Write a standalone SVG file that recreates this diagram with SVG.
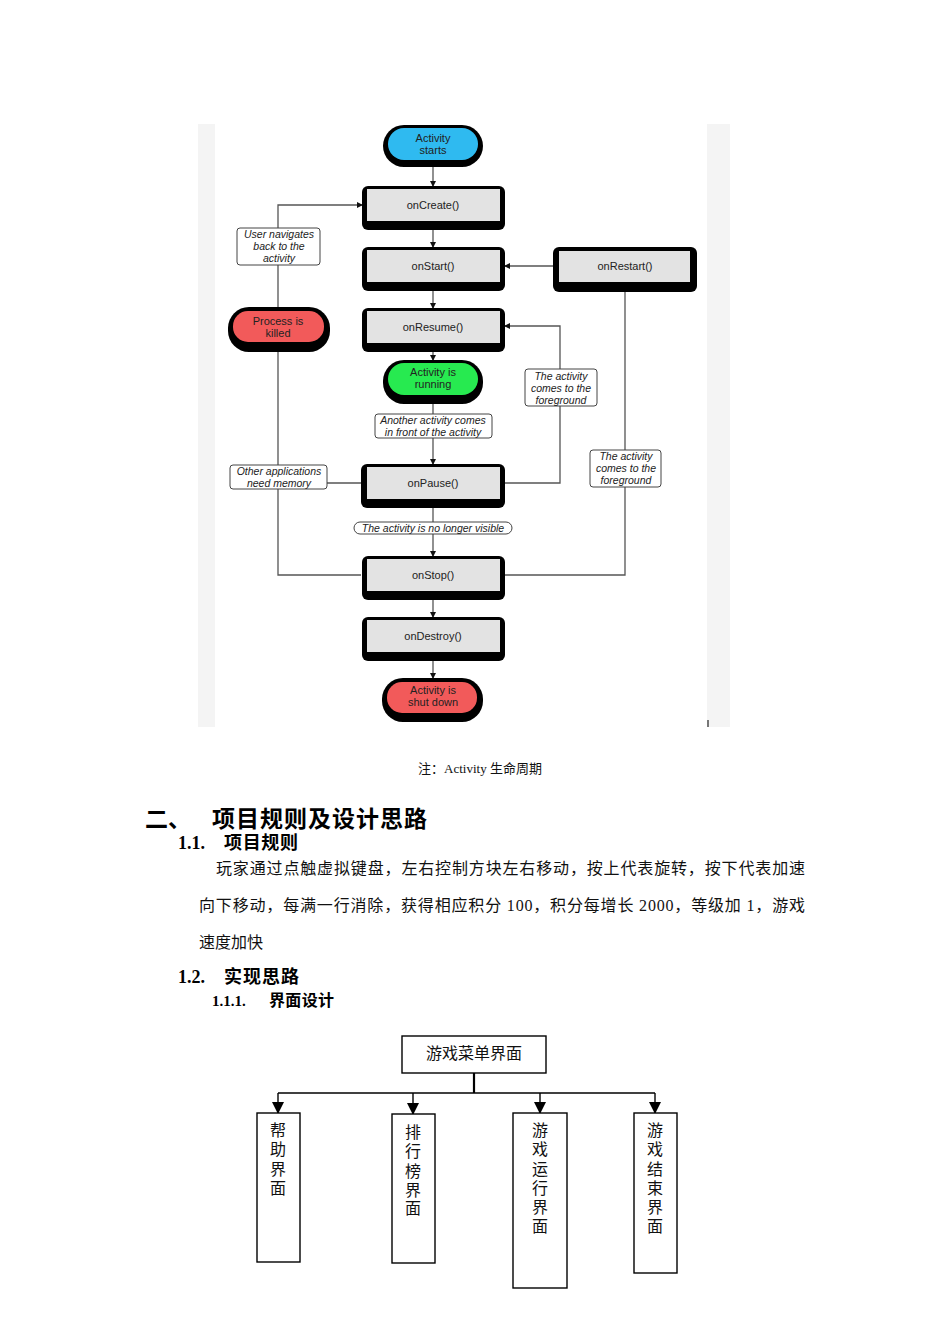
<svg xmlns="http://www.w3.org/2000/svg" width="950" height="1344" viewBox="0 0 950 1344">
<style>
.frame{fill:#000}
.box{fill:#e3e3e3}
.blue{fill:#2fbaf0}
.green{fill:#27ea50}
.red{fill:#f25a5a}
.nt{font-family:"Liberation Sans",Arial,sans-serif;font-size:11px;fill:#222;text-anchor:middle}
.lb{font-family:"Liberation Sans",Arial,sans-serif;font-size:10.5px;font-style:italic;fill:#222;text-anchor:middle}
.lbox{fill:#fff;stroke:#444;stroke-width:1}
.ln{fill:none;stroke:#555;stroke-width:1.3}
.tl{fill:none;stroke:#000;stroke-width:1.4}
.tb{fill:#fff;stroke:#000;stroke-width:1.4}
.cn{font-family:"Liberation Serif","Noto Sans CJK SC",serif;font-size:16px;fill:#111}
.cv{font-family:"Liberation Serif","Noto Sans CJK SC",serif;font-size:16px;fill:#111;text-anchor:middle}
.h{font-family:"Liberation Serif","Noto Sans CJK SC",serif;font-weight:bold;fill:#000}
</style>
<defs>
<marker id="a" markerWidth="6" markerHeight="6" refX="5" refY="3" orient="auto" markerUnits="userSpaceOnUse">
<path d="M0,0 L6,3 L0,6 Z" fill="#111"/>
</marker>
<marker id="t" markerWidth="12" markerHeight="12" refX="11" refY="6" orient="auto" markerUnits="userSpaceOnUse">
<path d="M0,0 L12,6 L0,12 Z" fill="#000"/>
</marker>
</defs>
<rect width="950" height="1344" fill="#fff"/>
<!-- figure background -->
<rect x="198" y="124" width="17" height="603" fill="#f4f4f4"/>
<rect x="707" y="124" width="23" height="603" fill="#f4f4f4"/>
<rect x="707" y="720" width="2" height="7" fill="#777"/>

<!-- connectors -->
<g id="connectors">
<path class="ln" d="M433,167 V186" marker-end="url(#a)"/>
<path class="ln" d="M433,230 V247" marker-end="url(#a)"/>
<path class="ln" d="M433,291 V308" marker-end="url(#a)"/>
<path class="ln" d="M433,352 V360" marker-end="url(#a)"/>
<path class="ln" d="M433,404 V464" marker-end="url(#a)"/>
<path class="ln" d="M433,508 V556" marker-end="url(#a)"/>
<path class="ln" d="M433,600 V617" marker-end="url(#a)"/>
<path class="ln" d="M433,661 V678" marker-end="url(#a)"/>
<path class="ln" d="M505,483 H560 V326 H505" marker-end="url(#a)"/>
<path class="ln" d="M553,266 H505" marker-end="url(#a)"/>
<path class="ln" d="M505,575 H625 V292"/>
<path class="ln" d="M278,307 V205 H362" marker-end="url(#a)"/>
<path class="ln" d="M361,575 H278 V352"/>
<path class="ln" d="M361,483 H327"/>
<!-- tree connectors -->
<path d="M474,1073 V1093" fill="none" stroke="#000" stroke-width="2.2"/>
<path class="tl" d="M278,1093 H655"/>
<path class="tl" d="M278,1093 V1113" marker-end="url(#t)"/>
<path class="tl" d="M413,1093 V1114" marker-end="url(#t)"/>
<path class="tl" d="M540,1093 V1113" marker-end="url(#t)"/>
<path class="tl" d="M655,1093 V1113" marker-end="url(#t)"/>
</g>

<!-- lifecycle nodes -->
<g id="start">
<rect class="frame" x="383" y="125" width="100" height="42" rx="21"/>
<rect class="blue" x="388" y="128" width="90" height="32" rx="16"/>
<text class="nt" x="433" y="142">Activity</text>
<text class="nt" x="433" y="154">starts</text>
</g>
<g id="onCreate">
<rect class="frame" x="362" y="186" width="143" height="44" rx="6"/>
<rect class="box" x="367" y="189" width="133" height="32"/>
<text class="nt" x="433" y="209">onCreate()</text>
</g>
<g id="onStart">
<rect class="frame" x="362" y="247" width="143" height="44" rx="6"/>
<rect class="box" x="367" y="250" width="133" height="32"/>
<text class="nt" x="433" y="270">onStart()</text>
</g>
<g id="onRestart">
<rect class="frame" x="553" y="247" width="144" height="45" rx="6"/>
<rect class="box" x="559" y="251" width="131" height="31"/>
<text class="nt" x="625" y="270">onRestart()</text>
</g>
<g id="onResume">
<rect class="frame" x="362" y="308" width="143" height="44" rx="6"/>
<rect class="box" x="367" y="311" width="133" height="32"/>
<text class="nt" x="433" y="331">onResume()</text>
</g>
<g id="running">
<rect class="frame" x="383" y="360" width="100" height="44" rx="21"/>
<rect class="green" x="388" y="363" width="90" height="32" rx="16"/>
<text class="nt" x="433" y="376">Activity is</text>
<text class="nt" x="433" y="388">running</text>
</g>
<g id="killed">
<rect class="frame" x="228" y="307" width="102" height="45" rx="21"/>
<rect class="red" x="233" y="311" width="91" height="31" rx="15"/>
<text class="nt" x="278" y="325">Process is</text>
<text class="nt" x="278" y="337">killed</text>
</g>
<g id="onPause">
<rect class="frame" x="361" y="464" width="144" height="44" rx="6"/>
<rect class="box" x="367" y="467" width="133" height="32"/>
<text class="nt" x="433" y="487">onPause()</text>
</g>
<g id="onStop">
<rect class="frame" x="362" y="556" width="143" height="44" rx="6"/>
<rect class="box" x="367" y="559" width="133" height="32"/>
<text class="nt" x="433" y="579">onStop()</text>
</g>
<g id="onDestroy">
<rect class="frame" x="362" y="617" width="143" height="44" rx="6"/>
<rect class="box" x="367" y="620" width="133" height="32"/>
<text class="nt" x="433" y="640">onDestroy()</text>
</g>
<g id="shutdown">
<rect class="frame" x="382" y="678" width="101" height="44" rx="21"/>
<rect class="red" x="387" y="682" width="90" height="31" rx="15"/>
<text class="nt" x="433" y="694">Activity is</text>
<text class="nt" x="433" y="706">shut down</text>
</g>

<!-- labels -->
<g id="lbl-user">
<rect class="lbox" x="237" y="228" width="83" height="37" rx="3"/>
<text class="lb" x="279" y="238">User navigates</text>
<text class="lb" x="279" y="250">back to the</text>
<text class="lb" x="279" y="262">activity</text>
</g>
<g id="lbl-another">
<rect class="lbox" x="375" y="414" width="117" height="24" rx="3"/>
<text class="lb" x="433" y="424">Another activity comes</text>
<text class="lb" x="433" y="436">in front of the activity</text>
</g>
<g id="lbl-memory">
<rect class="lbox" x="230" y="465" width="97" height="24" rx="3"/>
<text class="lb" x="279" y="475">Other applications</text>
<text class="lb" x="279" y="487">need memory</text>
</g>
<g id="lbl-visible">
<rect class="lbox" x="354" y="522" width="158" height="12" rx="6"/>
<text class="lb" x="433" y="532">The activity is no longer visible</text>
</g>
<g id="lbl-fg1">
<rect class="lbox" x="525" y="369" width="72" height="37" rx="3"/>
<text class="lb" x="561" y="380">The activity</text>
<text class="lb" x="561" y="392">comes to the</text>
<text class="lb" x="561" y="404">foreground</text>
</g>
<g id="lbl-fg2">
<rect class="lbox" x="590" y="450" width="71" height="37" rx="3"/>
<text class="lb" x="626" y="460">The activity</text>
<text class="lb" x="626" y="472">comes to the</text>
<text class="lb" x="626" y="484">foreground</text>
</g>

<!-- document text -->
<text class="cn" x="480" y="773" font-size="13" text-anchor="middle" style="font-size:13px">注：Activity 生命周期</text>
<text class="h" x="145" y="827" font-size="23">二、</text>
<text class="h" x="212" y="827" font-size="23" textLength="215">项目规则及设计思路</text>
<text class="h" x="178" y="849" font-size="18">1.1.</text>
<text class="h" x="224" y="849" font-size="18" textLength="74">项目规则</text>
<text class="cn" x="216" y="874" textLength="589">玩家通过点触虚拟键盘，左右控制方块左右移动，按上代表旋转，按下代表加速</text>
<text class="cn" x="199" y="911" textLength="606">向下移动，每满一行消除，获得相应积分 100，积分每增长 2000，等级加 1，游戏</text>
<text class="cn" x="199" y="948">速度加快</text>
<text class="h" x="178" y="983" font-size="18">1.2.</text>
<text class="h" x="224" y="983" font-size="18" textLength="75">实现思路</text>
<text class="h" x="212" y="1006" font-size="15">1.1.1.</text>
<text class="h" x="269" y="1006" font-size="16" textLength="65">界面设计</text>

<!-- tree nodes -->
<g id="menu">
<rect class="tb" x="402" y="1036" width="144" height="37"/>
<text class="cv" x="474" y="1059">游戏菜单界面</text>
</g>
<g id="help">
<rect class="tb" x="257" y="1113" width="43" height="149"/>
<text class="cv" x="278" y="1136">帮</text>
<text class="cv" x="278" y="1155">助</text>
<text class="cv" x="278" y="1175">界</text>
<text class="cv" x="278" y="1194">面</text>
</g>
<g id="rank">
<rect class="tb" x="392" y="1114" width="43" height="149"/>
<text class="cv" x="413" y="1138">排</text>
<text class="cv" x="413" y="1157">行</text>
<text class="cv" x="413" y="1177">榜</text>
<text class="cv" x="413" y="1196">界</text>
<text class="cv" x="413" y="1214">面</text>
</g>
<g id="run">
<rect class="tb" x="513" y="1113" width="54" height="175"/>
<text class="cv" x="540" y="1136">游</text>
<text class="cv" x="540" y="1155">戏</text>
<text class="cv" x="540" y="1175">运</text>
<text class="cv" x="540" y="1194">行</text>
<text class="cv" x="540" y="1213">界</text>
<text class="cv" x="540" y="1232">面</text>
</g>
<g id="over">
<rect class="tb" x="634" y="1113" width="43" height="160"/>
<text class="cv" x="655" y="1136">游</text>
<text class="cv" x="655" y="1155">戏</text>
<text class="cv" x="655" y="1175">结</text>
<text class="cv" x="655" y="1194">束</text>
<text class="cv" x="655" y="1213">界</text>
<text class="cv" x="655" y="1232">面</text>
</g>
</svg>
